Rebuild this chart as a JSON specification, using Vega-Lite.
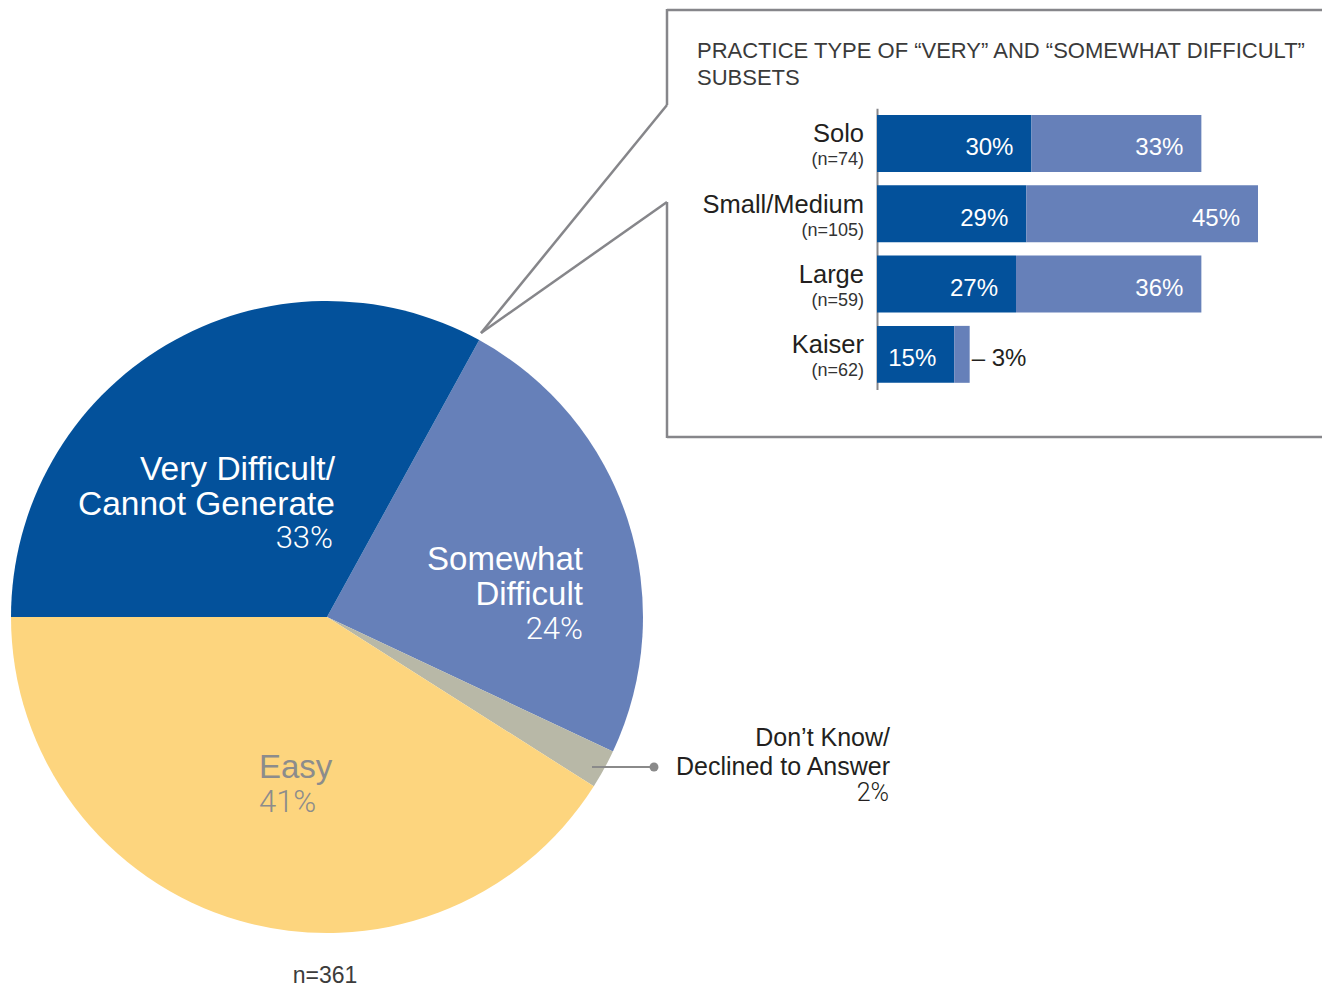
{
  "$schema": "https://vega.github.io/schema/vega-lite/v6.json",
  "width": 1322,
  "height": 987,
  "padding": 0,
  "autosize": "none",
  "background": "white",
  "config": {"view": {"stroke": null}, "text": {"font": "Liberation Sans"}},
  "datasets": {
    "pie": [
      {"cat": "Somewhat Difficult", "name": ["Somewhat", "Difficult"], "share": 0.24, "ord": 1},
      {"cat": "Don't Know/Declined to Answer", "name": ["Don’t Know/", "Declined to Answer"], "share": 0.02, "ord": 2},
      {"cat": "Easy", "name": ["Easy"], "share": 0.41, "ord": 3},
      {"cat": "Very Difficult/Cannot Generate", "name": ["Very Difficult/", "Cannot Generate"], "share": 0.33, "ord": 4}
    ],
    "bars": [
      {"practice": "Solo", "n": "(n=74)", "level": "Very difficult", "share": 0.30},
      {"practice": "Solo", "n": "(n=74)", "level": "Somewhat difficult", "share": 0.33},
      {"practice": "Small/Medium", "n": "(n=105)", "level": "Very difficult", "share": 0.29},
      {"practice": "Small/Medium", "n": "(n=105)", "level": "Somewhat difficult", "share": 0.45},
      {"practice": "Large", "n": "(n=59)", "level": "Very difficult", "share": 0.27},
      {"practice": "Large", "n": "(n=59)", "level": "Somewhat difficult", "share": 0.36},
      {"practice": "Kaiser", "n": "(n=62)", "level": "Very difficult", "share": 0.15},
      {"practice": "Kaiser", "n": "(n=62)", "level": "Somewhat difficult", "share": 0.03}
    ],
    "notes": [
      {"title": ["PRACTICE TYPE OF “VERY” AND “SOMEWHAT DIFFICULT”", "SUBSETS"], "total": "n=361"}
    ]
  },
  "layer": [
    {"data": {"name": "notes"}, "mark": {"type": "rule", "stroke": "#86868a", "strokeWidth": 2.5}, "encoding": {"x": {"value": 667}, "x2": {"value": 1330}, "y": {"value": 10}, "y2": {"value": 10}}},
    {"data": {"name": "notes"}, "mark": {"type": "rule", "stroke": "#86868a", "strokeWidth": 2.5}, "encoding": {"x": {"value": 667}, "x2": {"value": 1330}, "y": {"value": 437}, "y2": {"value": 437}}},
    {"data": {"name": "notes"}, "mark": {"type": "rule", "stroke": "#86868a", "strokeWidth": 2.5}, "encoding": {"x": {"value": 667}, "x2": {"value": 667}, "y": {"value": 9}, "y2": {"value": 105}}},
    {"data": {"name": "notes"}, "mark": {"type": "rule", "stroke": "#86868a", "strokeWidth": 2.5}, "encoding": {"x": {"value": 667}, "x2": {"value": 667}, "y": {"value": 202}, "y2": {"value": 438}}},
    {"data": {"name": "notes"}, "mark": {"type": "rule", "stroke": "#86868a", "strokeWidth": 2.5}, "encoding": {"x": {"value": 667}, "x2": {"value": 481}, "y": {"value": 105}, "y2": {"value": 333}}},
    {"data": {"name": "notes"}, "mark": {"type": "rule", "stroke": "#86868a", "strokeWidth": 2.5}, "encoding": {"x": {"value": 667}, "x2": {"value": 481}, "y": {"value": 202}, "y2": {"value": 333}}},
    {
      "data": {"name": "pie"},
      "encoding": {
        "theta": {"field": "share", "type": "quantitative", "stack": true, "scale": {"domain": [0, 1], "range": [0.50265, 6.78584]}},
        "order": {"field": "ord", "type": "quantitative"}
      },
      "layer": [
        {
          "mark": {"type": "arc", "outerRadius": 316, "x": 327, "y": 617},
          "encoding": {
            "color": {"field": "cat", "type": "nominal", "legend": null,
              "scale": {"domain": ["Very Difficult/Cannot Generate", "Somewhat Difficult", "Don't Know/Declined to Answer", "Easy"],
                        "range": ["#03519B", "#6680B9", "#B8B8A7", "#FDD57E"]}}
          }
        },
        {
          "mark": {"type": "text", "x": 327, "y": 617, "radius": 170, "dx": 94.5, "dy": 9.3, "align": "right", "baseline": "alphabetic", "fontSize": 33.5, "lineHeight": 35, "fill": "#ffffff"},
          "encoding": {"detail": {"field": "cat", "type": "nominal"}, "text": {"condition": {"test": "datum.ord === 4", "field": "name", "type": "nominal"}, "value": ""}}
        },
        {
          "mark": {"type": "text", "x": 327, "y": 617, "radius": 170, "dx": 92.5, "dy": 77.3, "align": "right", "baseline": "alphabetic", "font": "Roboto", "fontWeight": 300, "fontSize": 31, "fill": "#ffffff"},
          "encoding": {"detail": {"field": "cat", "type": "nominal"}, "text": {"condition": {"test": "datum.ord === 4", "field": "share", "type": "quantitative", "format": ".0%"}, "value": ""}}
        },
        {
          "mark": {"type": "text", "x": 327, "y": 617, "radius": 170, "dx": 94.3, "dy": 5.5, "align": "right", "baseline": "alphabetic", "fontSize": 33, "lineHeight": 35, "fill": "#ffffff"},
          "encoding": {"detail": {"field": "cat", "type": "nominal"}, "text": {"condition": {"test": "datum.ord === 1", "field": "name", "type": "nominal"}, "value": ""}}
        },
        {
          "mark": {"type": "text", "x": 327, "y": 617, "radius": 170, "dx": 94.3, "dy": 74.5, "align": "right", "baseline": "alphabetic", "font": "Roboto", "fontWeight": 300, "fontSize": 31, "fill": "#ffffff"},
          "encoding": {"detail": {"field": "cat", "type": "nominal"}, "text": {"condition": {"test": "datum.ord === 1", "field": "share", "type": "quantitative", "format": ".0%"}, "value": ""}}
        },
        {
          "mark": {"type": "text", "x": 327, "y": 617, "radius": 170, "dx": -20.6, "dy": -2.3, "align": "left", "baseline": "alphabetic", "fontSize": 33, "fill": "#8C8C8C"},
          "encoding": {"detail": {"field": "cat", "type": "nominal"}, "text": {"condition": {"test": "datum.ord === 3", "field": "name", "type": "nominal"}, "value": ""}}
        },
        {
          "mark": {"type": "text", "x": 327, "y": 617, "radius": 170, "dx": -20.6, "dy": 31.7, "align": "left", "baseline": "alphabetic", "font": "Roboto", "fontWeight": 300, "fontSize": 31, "fill": "#8C8C8C"},
          "encoding": {"detail": {"field": "cat", "type": "nominal"}, "text": {"condition": {"test": "datum.ord === 3", "field": "share", "type": "quantitative", "format": ".0%"}, "value": ""}}
        },
        {
          "mark": {"type": "text", "x": 327, "y": 617, "radius": 316, "dx": 286.1, "dy": -23.2, "align": "right", "baseline": "alphabetic", "fontSize": 25, "lineHeight": 29, "fill": "#231F20"},
          "encoding": {"detail": {"field": "cat", "type": "nominal"}, "text": {"condition": {"test": "datum.ord === 2", "field": "name", "type": "nominal"}, "value": ""}}
        },
        {
          "mark": {"type": "text", "x": 327, "y": 617, "radius": 316, "dx": 285.1, "dy": 31.8, "align": "right", "baseline": "alphabetic", "font": "Roboto", "fontWeight": 300, "fontSize": 25, "fill": "#231F20"},
          "encoding": {"detail": {"field": "cat", "type": "nominal"}, "text": {"condition": {"test": "datum.ord === 2", "field": "share", "type": "quantitative", "format": ".0%"}, "value": ""}}
        }
      ]
    },
    {
      "data": {"name": "bars"},
      "encoding": {
        "y": {"field": "practice", "type": "nominal", "sort": ["Solo", "Small/Medium", "Large", "Kaiser"],
              "scale": {"range": [108.3, 389.5], "paddingInner": 0.19, "paddingOuter": 0.095},
              "axis": {"offset": -877, "labels": false, "ticks": false, "title": null, "grid": false, "domainColor": "#86868a", "domainWidth": 2}}
      },
      "layer": [
        {
          "mark": {"type": "bar"},
          "encoding": {
            "x": {"field": "share", "type": "quantitative", "stack": "zero", "scale": {"domain": [0, 0.74], "range": [877, 1258], "nice": false}, "axis": null},
            "color": {"field": "level", "type": "nominal", "legend": null, "scale": {"domain": ["Very difficult", "Somewhat difficult"], "range": ["#03519B", "#6680B9"]}},
            "order": {"field": "level", "sort": "descending"}
          }
        },
        {
          "mark": {"type": "text", "align": "right", "baseline": "alphabetic", "dx": -18, "dy": 12, "fontSize": 24, "fill": "#ffffff"},
          "encoding": {
            "x": {"field": "share", "type": "quantitative", "stack": "zero", "axis": null},
            "detail": {"field": "level", "type": "nominal"},
            "order": {"field": "level", "sort": "descending"},
            "text": {"field": "share", "type": "quantitative", "format": ".0%", "condition": {"test": "datum.practice === 'Kaiser' && datum.level === 'Somewhat difficult'", "value": ""}}
          }
        },
        {
          "mark": {"type": "text", "align": "left", "baseline": "alphabetic", "dx": 2, "dy": 12, "fontSize": 24, "fill": "#231F20",
                   "text": {"expr": "datum.practice === 'Kaiser' && datum.level === 'Somewhat difficult' ? '– ' + format(datum.share, '.0%') : ''"}},
          "encoding": {
            "x": {"field": "share", "type": "quantitative", "stack": "zero", "axis": null},
            "detail": {"field": "level", "type": "nominal"},
            "order": {"field": "level", "sort": "descending"}
          }
        },
        {
          "transform": [{"filter": "datum.level === 'Very difficult'"}],
          "mark": {"type": "text", "align": "right", "baseline": "alphabetic", "dx": -13, "dy": -1, "fontSize": 25.5, "fill": "#231F20"},
          "encoding": {"x": {"datum": 0, "type": "quantitative"}, "text": {"field": "practice", "type": "nominal"}}
        },
        {
          "transform": [{"filter": "datum.level === 'Very difficult'"}],
          "mark": {"type": "text", "align": "right", "baseline": "alphabetic", "dx": -13, "dy": 22, "fontSize": 18, "fill": "#333333"},
          "encoding": {"x": {"datum": 0, "type": "quantitative"}, "text": {"field": "n", "type": "nominal"}}
        }
      ]
    },
    {
      "data": {"name": "notes"},
      "mark": {"type": "text", "x": 697, "y": 58, "align": "left", "baseline": "alphabetic", "fontSize": 22, "lineHeight": 27, "fill": "#3a3a3a"},
      "encoding": {"text": {"field": "title", "type": "nominal"}}
    },
    {
      "data": {"name": "notes"},
      "mark": {"type": "text", "x": 325, "y": 983, "align": "center", "baseline": "alphabetic", "fontSize": 23, "fill": "#3c3c3c"},
      "encoding": {"text": {"field": "total", "type": "nominal"}}
    },
    {"data": {"name": "notes"}, "mark": {"type": "rule", "stroke": "#8a8a8a", "strokeWidth": 2}, "encoding": {"x": {"value": 592}, "x2": {"value": 654}, "y": {"value": 767}, "y2": {"value": 767}}},
    {"data": {"name": "notes"}, "mark": {"type": "point", "filled": true, "fill": "#8a8a8a", "opacity": 1, "size": 80, "x": 654, "y": 767}, "encoding": {}}
  ]
}
